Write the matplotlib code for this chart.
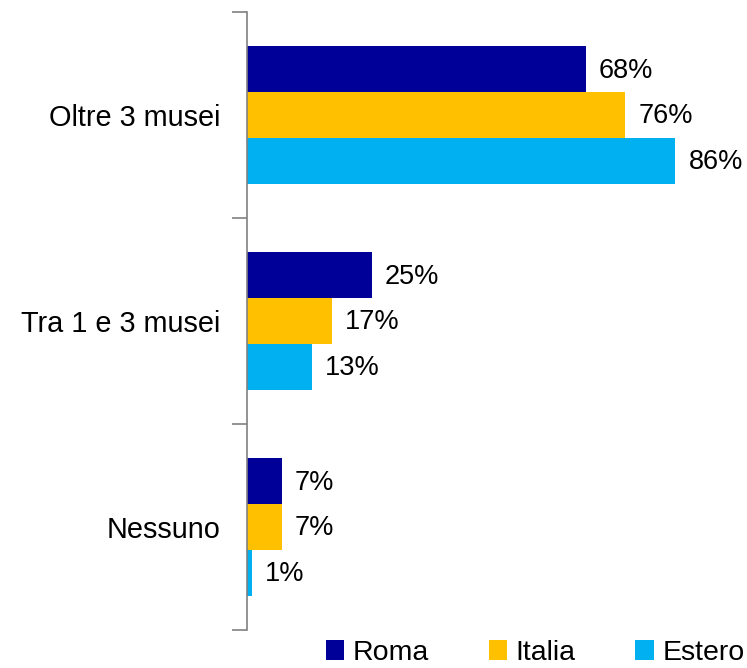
import matplotlib
matplotlib.use("Agg")
import matplotlib.pyplot as plt
import numpy as np

categories = ["Oltre 3 musei", "Tra 1 e 3 musei", "Nessuno"]
series_names = ["Roma", "Italia", "Estero"]
roma = [68, 25, 7]
italia = [76, 17, 7]
estero = [86, 13, 1]
colors = ["#000099", "#FFC000", "#00B0F0"]

plt.rcParams['font.family'] = ['Liberation Sans', 'DejaVu Sans']

fig = plt.figure(figsize=(7.47, 6.68), dpi=100)
ax = fig.add_axes([247/747, 1-630/668, 1-247/747, (630-12)/668])

y = np.arange(len(categories))
h = 0.222
for i, (vals, name, c) in enumerate(zip([roma, italia, estero], series_names, colors)):
    pos = y + (i - 1) * h
    ax.barh(pos, vals, height=h, color=c, label=name)
    for p, v in zip(pos, vals):
        ax.annotate(f"{v}%", xy=(v, p), xytext=(9.5, -1), textcoords="offset points",
                    va="center", ha="left", fontsize=19.5)

ax.set_xlim(0, 100.4)
ax.set_ylim(2.5, -0.5)
ax.set_yticks(y)
ax.set_yticklabels(categories, fontsize=20.8)
ax.set_yticks([-0.5, 0.5, 1.5, 2.5], minor=True)
ax.tick_params(axis='y', which='major', length=0, pad=19)
ax.tick_params(axis='y', which='minor', length=11, color='#808080', width=1.2)
ax.set_xticks([])
for s in ['top', 'right', 'bottom']:
    ax.spines[s].set_visible(False)
ax.spines['left'].set_color('#808080')
ax.spines['left'].set_linewidth(1.2)

leg = fig.legend(loc='center right', bbox_to_anchor=(0.997, 1-653/668), ncol=3,
                 frameon=False, fontsize=20.5, handlelength=0.65, handleheight=0.65,
                 handletextpad=0.3, columnspacing=2.1, borderaxespad=0, borderpad=0)

fig.savefig("out.png", dpi=100)
